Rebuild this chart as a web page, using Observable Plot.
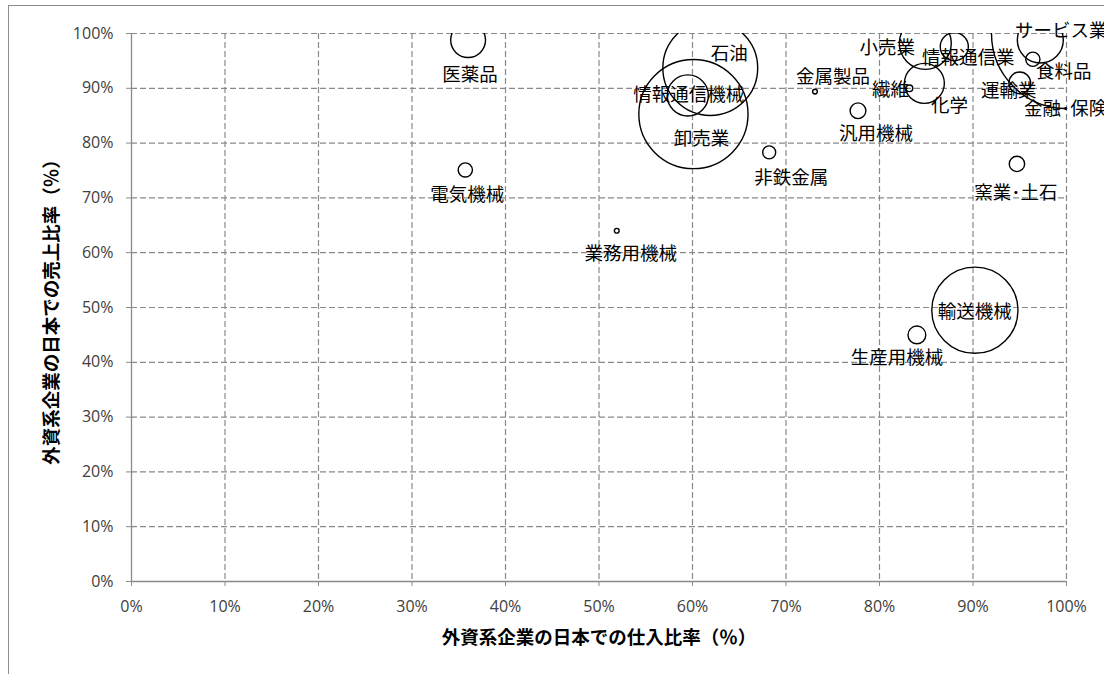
<!DOCTYPE html>
<html lang="ja">
<head>
<meta charset="utf-8">
<script src="https://cdn.jsdelivr.net/npm/d3@7"></script>
<script src="https://cdn.jsdelivr.net/npm/@observablehq/plot@0.6"></script>
<style>
  html, body { margin: 0; padding: 0; background: #fff; }
  #wrap { position: relative; width: 1104px; height: 674px; overflow: hidden; }
  #border { position: absolute; left: 8px; top: 5px; width: 1300px; height: 900px;
            border: 1px solid #8c8c8c; box-sizing: border-box; }
  #chart { position: absolute; left: 0; top: 0; }
</style>
</head>
<body>
<div id="wrap">
  <div id="border"></div>
  <div id="chart"></div>
</div>
<script>
// 業種
const industries = [
  "医薬品", "電気機械", "業務用機械", "石油", "卸売業", "情報通信機械",
  "金属製品", "非鉄金属", "汎用機械", "繊維", "化学", "小売業",
  "情報通信業", "サービス業", "食料品", "運輸業", "金融･保険",
  "窯業･土石", "生産用機械", "輸送機械"
];
// 外資系企業の日本での仕入比率(%)
const purchaseRatio = [
  36.0, 35.7, 51.9, 61.9, 60.1, 59.5,
  73.1, 68.2, 77.7, 83.2, 84.8, 84.9,
  88.0, 97.2, 96.4, 95.0, 100.0,
  94.7, 84.0, 90.2
];
// 外資系企業の日本での売上比率(%)
const salesRatio = [
  98.8, 75.1, 64.0, 93.7, 85.3, 88.7,
  89.4, 78.3, 85.9, 90.0, 90.9, 98.2,
  97.6, 98.8, 95.3, 91.0, 100.0,
  76.2, 45.0, 49.5
];
// 規模（バブルの面積、相対値）
const bubbleSize = [
  5.4, 0.9, 0.1, 40, 53, 7.5,
  0.1, 0.75, 1.1, 0.2, 7.1, 12.0,
  3.5, 9.4, 0.9, 2.1, 100,
  1.05, 1.4, 33
];
const tickValues = [0, 10, 20, 30, 40, 50, 60, 70, 80, 90, 100];

const rows = industries.map((name, i) => ({
  name, x: purchaseRatio[i], y: salesRatio[i], size: bubbleSize[i]
}));

// ラベルの配置（バブル中心からのずれ, px）
const labelShift = {
  "医薬品": [2, 35], "電気機械": [2, 25], "業務用機械": [14, 23],
  "石油": [19, -14], "卸売業": [8, 25], "情報通信機械": [1, 0],
  "金属製品": [18, -15], "非鉄金属": [22, 26], "汎用機械": [18, 23],
  "繊維": [-19, 2], "化学": [25, 23], "小売業": [-38, 5],
  "情報通信業": [14, 11], "サービス業": [21, -9], "食料品": [31, 13],
  "運輸業": [-11, 8], "金融･保険": [-1, 76], "窯業･土石": [-1, 29],
  "生産用機械": [-20, 23], "輸送機械": [0, 2]
};

const jp = "'Noto Sans CJK JP', 'Noto Sans', sans-serif";
const gridColor = "#8a8a8a";
const pct = d => `${d}%`;

const labelMarks = rows.map(d => Plot.text([d], {
  x: "x", y: "y", text: "name",
  dx: labelShift[d.name][0], dy: labelShift[d.name][1],
  fontSize: 18.5, fontFamily: jp, fill: "#000",
  textAnchor: "middle", lineAnchor: "middle"
}));

const chart = Plot.plot({
  width: 1104,
  height: 674,
  marginLeft: 131,
  marginRight: 38,
  marginTop: 33,
  marginBottom: 93,
  style: { fontFamily: "'Open Sans', sans-serif", background: "transparent", overflow: "visible" },
  x: { domain: [0, 100] },
  y: { domain: [0, 100] },
  r: { type: "sqrt", domain: [0, 100], range: [0, 75] },
  marks: [
    Plot.gridX(tickValues.slice(1), { stroke: gridColor, strokeOpacity: 1, strokeWidth: 1.2, strokeDasharray: "6,3" }),
    Plot.gridY(tickValues.slice(1), { stroke: gridColor, strokeOpacity: 1, strokeWidth: 1.2, strokeDasharray: "6,3" }),
    Plot.ruleX([0], { stroke: gridColor, strokeWidth: 1.3 }),
    Plot.ruleY([0], { stroke: gridColor, strokeWidth: 1.3 }),
    Plot.axisX({ ticks: tickValues, tickFormat: pct, tickSize: 5, tickPadding: 14,
                 stroke: gridColor, color: "#404040", fontSize: 16, label: null }),
    Plot.axisY({ ticks: tickValues, tickFormat: pct, tickSize: 5, tickPadding: 13,
                 stroke: gridColor, color: "#404040", fontSize: 16, label: null }),
    Plot.dot(rows, { x: "x", y: "y", r: "size", stroke: "#000", strokeWidth: 1.4,
                     fill: "none", clip: "frame" }),
    ...labelMarks,
    Plot.text(["外資系企業の日本での仕入比率（％）"], {
      frameAnchor: "bottom", dy: 57, fontSize: 18.5, fontWeight: "bold",
      fontFamily: jp, fill: "#000", textAnchor: "middle", lineAnchor: "middle"
    }),
    Plot.text(["外資系企業の日本での売上比率（％）"], {
      frameAnchor: "left", dx: -79, rotate: -90, fontSize: 18.5, fontWeight: "bold",
      fontFamily: jp, fill: "#000", textAnchor: "middle", lineAnchor: "middle"
    })
  ]
});

document.getElementById("chart").appendChild(chart);
</script>
</body>
</html>
